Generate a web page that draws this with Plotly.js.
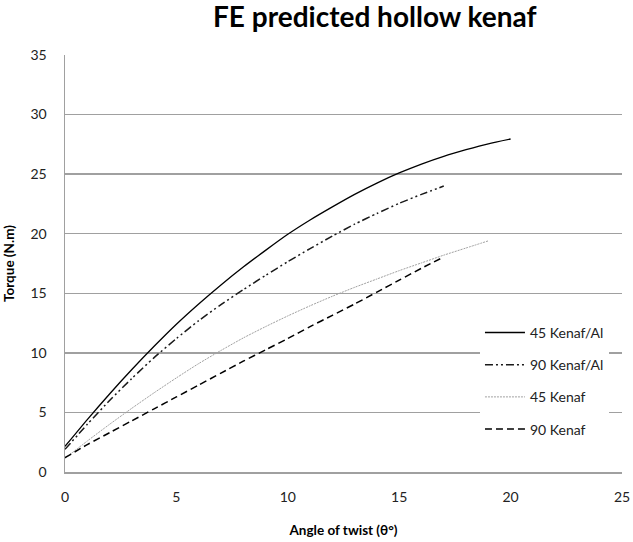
<!DOCTYPE html>
<html>
<head>
<meta charset="utf-8">
<script src="https://cdn.plot.ly/plotly-3.0.1.min.js"></script>
<style>html,body{margin:0;padding:0;background:#fff;}#chart{width:633px;height:542px;}</style>
</head>
<body>
<div id="chart"></div>
<script>
// Angle of twist (degrees) and torque (N.m)
const angle45Al = [0,1,2,3,4,5,6,7,8,9,10,11,12,13,14,15,16,17,18,19,20];
const torque45Al = [2.15,4.4,6.55,8.6,10.55,12.4,14.1,15.7,17.2,18.6,19.95,21.15,22.25,23.3,24.25,25.1,25.85,26.5,27.05,27.55,27.95];

const angle90Al = [0,1,2,3,4,5,6,7,8,9,10,11,12,13,14,15,16,17];
const torque90Al = [1.9,4.0,6.0,7.85,9.6,11.2,12.7,14.05,15.3,16.5,17.65,18.75,19.8,20.8,21.7,22.55,23.3,24.0];

const angle45 = [0,1,2,3,4,5,6,7,8,9,10,11,12,13,14,15,16,17,18,19];
const torque45 = [1.15,2.6,4.0,5.35,6.65,7.9,9.1,10.2,11.25,12.2,13.1,13.95,14.75,15.5,16.2,16.9,17.55,18.2,18.8,19.4];

const angle90 = [0,1,2,3,4,5,6,7,8,9,10,11,12,13,14,15,16,17];
const torque90 = [1.2,2.3,3.3,4.3,5.3,6.3,7.3,8.3,9.3,10.25,11.2,12.2,13.15,14.1,15.1,16.1,17.1,18.05];

const seriesNames = ["45 Kenaf/Al","90 Kenaf/Al","45 Kenaf","90 Kenaf"];
const xTicks = [0,5,10,15,20,25];
const yTicks = [0,5,10,15,20,25,30,35];

const FONT = "Lato, 'Open Sans', sans-serif";

const traces = [
  {x: angle45Al, y: torque45Al, name: seriesNames[0], legendgroup:"a",
   line:{color:"#000000", width:1.3, dash:"solid", shape:"spline", smoothing:0.6}},
  {x: angle90Al, y: torque90Al, name: seriesNames[1], legendgroup:"b",
   line:{color:"#1a1a1a", width:1.5, dash:"8px,3px,2px,3px,2px,3px", shape:"spline", smoothing:0.6}},
  {x: angle45, y: torque45, name: seriesNames[2], legendgroup:"c",
   line:{color:"#a0a0a0", width:1, dash:"2px,1px", shape:"spline", smoothing:0.6}},
  {x: angle90, y: torque90, name: seriesNames[3], legendgroup:"d",
   line:{color:"#000000", width:1.5, dash:"7px,4px", shape:"spline", smoothing:0.6}}
].map(t => Object.assign({type:"scatter", mode:"lines", hoverinfo:"skip"}, t));

const layout = {
  width:633, height:542,
  margin:{l:65, r:11, t:55, b:70},
  paper_bgcolor:"#ffffff", plot_bgcolor:"#ffffff",
  font:{family:FONT, size:13, color:"#222"},
  title:{text:"<b>FE predicted hollow kenaf</b>", font:{family:FONT, size:28, color:"#000"},
         x:0.592, xanchor:"center", y:0.968, yanchor:"middle"},
  xaxis:{range:[0,25], tickvals:xTicks, showgrid:false, zeroline:false,
         showline:true, linecolor:"#a0a0a0", linewidth:1.5, ticks:"",
         tickfont:{family:FONT, size:14, color:"#222"}, ticklabelstandoff:12,
         title:{text:"<b>Angle of twist (θ°)</b>", font:{family:FONT, size:13.5, color:"#000"}, standoff:21},
         fixedrange:true},
  yaxis:{range:[0,35], tickvals:yTicks, showgrid:true, gridcolor:"#a0a0a0", gridwidth:1.3,
         zeroline:false, showline:true, linecolor:"#a0a0a0", linewidth:1.5, ticks:"",
         tickfont:{family:FONT, size:14, color:"#222"}, ticklabelstandoff:14,
         title:{text:"<b>Torque (N.m)</b>", font:{family:FONT, size:13.5, color:"#000"}, standoff:12},
         fixedrange:true},
  showlegend:true,
  legend:{x:0.745, y:0.372, xanchor:"left", yanchor:"top", bgcolor:"#ffffff",
          font:{family:FONT, size:14, color:"#222"}, traceorder:"grouped", tracegroupgap:11,
          itemwidth:40}
};

Plotly.newPlot("chart", traces, layout, {displayModeBar:false, staticPlot:true});
</script>
</body>
</html>
